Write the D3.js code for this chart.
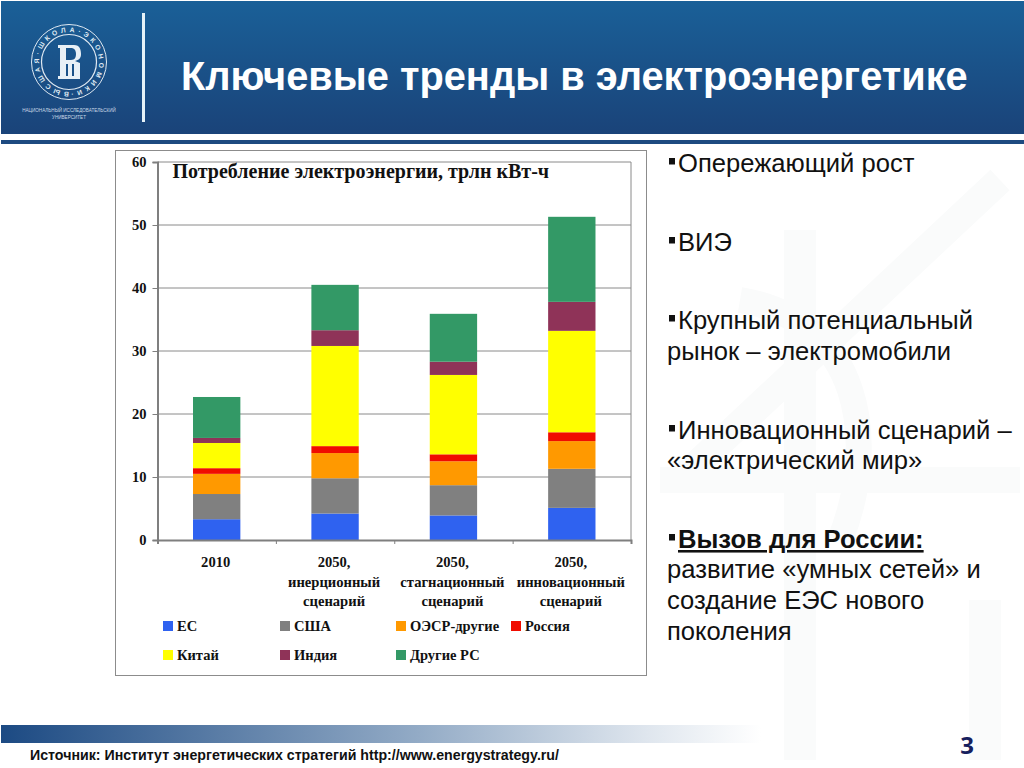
<!DOCTYPE html>
<html>
<head>
<meta charset="utf-8">
<script src="https://cdn.jsdelivr.net/npm/d3@7"></script>
<style>
html, body { margin: 0; padding: 0; background: #fff; }
svg { display: block; }
</style>
</head>
<body>
<script>
var categories = ["2010", "2050, инерционный", "2050, стагнационный", "2050, инновационный"];
var categoryLines = [
    ["2010"],
    ["2050,", "инерционный", "сценарий"],
    ["2050,", "стагнационный", "сценарий"],
    ["2050,", "инновационный", "сценарий"]
];
var seriesNames = ["ЕС", "США", "ОЭСР-другие", "Россия", "Китай", "Индия", "Другие РС"];
var seriesColors = ["#2f62f0", "#808080", "#ff9900", "#f00c00", "#ffff00", "#8f3358", "#339966"];
var es = [3.3, 4.2, 3.9, 5.1];
var usa = [4.0, 5.6, 4.8, 6.2];
var oecdOther = [3.2, 4.0, 3.8, 4.4];
var russia = [0.9, 1.1, 1.1, 1.4];
var china = [4.0, 15.9, 12.6, 16.1];
var india = [0.8, 2.5, 2.1, 4.6];
var otherDev = [6.5, 7.2, 7.6, 13.5];
var seriesValues = [es, usa, oecdOther, russia, china, india, otherDev];
var yTicks = [0, 10, 20, 30, 40, 50, 60];
var chartTitle = "Потребление электроэнергии, трлн кВт-ч";
var slideTitle = "Ключевые тренды в электроэнергетике";
var sourceLine = "Источник: Институт энергетических стратегий http://www.energystrategy.ru/";

var width = 1024, height = 768;
var sans = "'Liberation Sans', Arial, sans-serif";
var serif = "'Liberation Serif', 'Times New Roman', serif";

var svg = d3.select("body").append("svg")
    .attr("width", width)
    .attr("height", height);
var defs = svg.append("defs");

var headerGrad = defs.append("linearGradient").attr("id", "header-grad")
    .attr("x1", 0).attr("y1", 0).attr("x2", 0).attr("y2", 1);
headerGrad.append("stop").attr("offset", "0%").attr("stop-color", "#1a6098");
headerGrad.append("stop").attr("offset", "100%").attr("stop-color", "#1a4379");

var footerGrad = defs.append("linearGradient").attr("id", "footer-grad");
footerGrad.append("stop").attr("offset", "0%").attr("stop-color", "#1c4a83");
footerGrad.append("stop").attr("offset", "55%").attr("stop-color", "#93abc6");
footerGrad.append("stop").attr("offset", "85%").attr("stop-color", "#dfe6ee");
footerGrad.append("stop").attr("offset", "100%").attr("stop-color", "#ffffff");

renderWatermark();
renderHeader();
renderChart();
renderBullets();
renderFooter();

function renderWatermark() {
    var g = svg.append("g")
        .attr("fill", "none")
        .attr("stroke", "#fafbfb");
    g.append("path").attr("stroke-width", 32).attr("d", "M800,230V760");
    g.append("path").attr("stroke-width", 32).attr("d", "M985,600V760");
    g.append("path").attr("stroke-width", 28).attr("d", "M680,480L1000,180");
    g.append("path").attr("stroke-width", 26).attr("d", "M740,300C860,320 880,440 840,540");
    g.append("path").attr("stroke-width", 26).attr("d", "M660,480H1020");
}

function renderHeader() {
    svg.append("rect")
        .attr("x", 1).attr("y", 1)
        .attr("width", width - 1).attr("height", 133)
        .attr("fill", "url(#header-grad)");
    svg.append("rect")
        .attr("x", 1).attr("y", 140)
        .attr("width", width - 1).attr("height", 4)
        .attr("fill", "#1d4a80");
    svg.append("rect")
        .attr("x", 142).attr("y", 13)
        .attr("width", 3).attr("height", 109)
        .attr("fill", "#e6f2f8");
    svg.append("text")
        .attr("x", 181).attr("y", 90)
        .attr("font-family", sans)
        .attr("font-size", 39.8)
        .attr("font-weight", "bold")
        .attr("fill", "#ffffff")
        .text(slideTitle);
    renderLogo();
}

function renderLogo() {
    var g = svg.append("g").attr("transform", "translate(69,62)");
    g.append("circle").attr("r", 37.5)
        .attr("fill", "none").attr("stroke", "#dfe9f2").attr("stroke-width", 1);
    g.append("circle").attr("r", 27.5)
        .attr("fill", "none").attr("stroke", "#dfe9f2").attr("stroke-width", 1.2);
    defs.append("path").attr("id", "logo-ring")
        .attr("d", "M69,92A30,30 0 1 1 69.01,92");
    svg.append("text")
        .attr("font-family", sans)
        .attr("font-size", 6.8)
        .attr("font-weight", "bold")
        .attr("fill", "#dfe9f2")
        .append("textPath")
        .attr("href", "#logo-ring")
        .attr("textLength", 186)
        .text("ВЫСШАЯ·ШКОЛА·ЭКОНОМИКИ·");
    // monogram
    g.append("path")
        .attr("fill", "#e8f0f6")
        .attr("fill-rule", "evenodd")
        .attr("d", "M-11,-17H5C11,-17 12,-12 12,-8C12,-4 10,-2 6,-1L11,1V17H-11V14H-9V-14H-11Z" +
            "M-3,-14V-2H2C6,-2 7,-5 7,-8C7,-12 5,-14 2,-14Z" +
            "M-3,2V14H-1V2Z M3,2V14H5V2Z");
    [["НАЦИОНАЛЬНЫЙ ИССЛЕДОВАТЕЛЬСКИЙ", 112], ["УНИВЕРСИТЕТ", 119]].forEach(function (d) {
        svg.append("text")
            .attr("x", 69).attr("y", d[1])
            .attr("text-anchor", "middle")
            .attr("font-family", sans)
            .attr("font-size", 4.6)
            .attr("fill", "#c9d8e6")
            .text(d[0]);
    });
}

function renderChart() {
    var plot = {left: 157.5, right: 631, top: 162, bottom: 540};

    svg.append("rect")
        .attr("x", 115.5).attr("y", 150.5)
        .attr("width", 531).attr("height", 525)
        .attr("fill", "#ffffff")
        .attr("stroke", "#8c8c8c")
        .attr("stroke-width", 1);

    var x = d3.scaleBand()
        .domain(categories)
        .range([plot.left, plot.right])
        .paddingInner(0.6)
        .paddingOuter(0.3);
    var y = d3.scaleLinear()
        .domain([0, 60])
        .range([plot.bottom, plot.top]);

    var rows = categories.map(function (c, i) {
        var row = {category: c};
        seriesNames.forEach(function (name, s) { row[name] = seriesValues[s][i]; });
        return row;
    });
    var stacked = d3.stack().keys(seriesNames)(rows);

    // horizontal gridlines
    svg.append("g").selectAll("line")
        .data(yTicks.slice(1))
        .enter().append("line")
        .attr("x1", plot.left).attr("x2", plot.right)
        .attr("y1", function (d) { return y(d); })
        .attr("y2", function (d) { return y(d); })
        .attr("stroke", "#8a8a8a")
        .attr("stroke-width", 1);
    svg.append("line")
        .attr("x1", plot.right).attr("x2", plot.right)
        .attr("y1", plot.top).attr("y2", plot.bottom)
        .attr("stroke", "#8a8a8a");

    var layers = svg.append("g").selectAll("g")
        .data(stacked)
        .enter().append("g")
        .attr("fill", function (d, i) { return seriesColors[i]; });
    layers.selectAll("rect")
        .data(function (d) { return d; })
        .enter().append("rect")
        .attr("x", function (d) { return x(d.data.category); })
        .attr("width", x.bandwidth())
        .attr("y", function (d) { return y(d[1]); })
        .attr("height", function (d) { return y(d[0]) - y(d[1]); });

    // axes
    var yAxis = d3.axisLeft(y).tickValues(yTicks).tickSize(5).tickPadding(6);
    var yG = svg.append("g")
        .attr("transform", "translate(" + plot.left + ",0)")
        .call(yAxis);
    var xTickScale = d3.scaleLinear().domain([0, 4]).range([plot.left, plot.right]);
    var xAxis = d3.axisBottom(xTickScale).ticks(4).tickSize(4).tickFormat("");
    var xG = svg.append("g")
        .attr("transform", "translate(0," + plot.bottom + ")")
        .call(xAxis);
    [yG, xG].forEach(function (g) {
        g.selectAll("path").attr("stroke", "#7f7f7f").attr("stroke-width", 2);
        g.selectAll("line").attr("stroke", "#7f7f7f");
    });
    yG.selectAll("text")
        .attr("font-family", serif)
        .attr("font-size", 14.5)
        .attr("font-weight", "bold")
        .attr("fill", "#111");

    // category labels
    var labels = svg.append("g").selectAll("text")
        .data(categories)
        .enter().append("text")
        .attr("text-anchor", "middle")
        .attr("font-family", serif)
        .attr("font-size", 14.6)
        .attr("font-weight", "bold")
        .attr("fill", "#111");
    labels.selectAll("tspan")
        .data(function (d, i) {
            return categoryLines[i].map(function (t) { return {t: t, c: d}; });
        })
        .enter().append("tspan")
        .attr("x", function (d) { return x(d.c) + x.bandwidth() / 2 - 1; })
        .attr("y", function (d, i) { return 567 + i * 19.5; })
        .text(function (d) { return d.t; });

    svg.append("text")
        .attr("x", 172.5).attr("y", 178)
        .attr("font-family", serif)
        .attr("font-size", 20)
        .attr("font-weight", "bold")
        .attr("fill", "#111")
        .text(chartTitle);

    // legend
    var legendX = [163, 280, 396, 511];
    var legendY = [626, 655];
    var items = svg.append("g").selectAll("g")
        .data(seriesNames)
        .enter().append("g")
        .attr("transform", function (d, i) {
            return "translate(" + legendX[i % 4] + "," + legendY[Math.floor(i / 4)] + ")";
        });
    items.append("rect")
        .attr("y", -5).attr("width", 10).attr("height", 10)
        .attr("fill", function (d, i) { return seriesColors[i]; });
    items.append("text")
        .attr("x", 14).attr("y", 4.5)
        .attr("font-family", serif)
        .attr("font-size", 14.5)
        .attr("font-weight", "bold")
        .attr("fill", "#111")
        .text(function (d) { return d; });
}

function renderBullets() {
    var lines = [
        {t: "Опережающий рост", y: 172, bullet: true},
        {t: "ВИЭ", y: 251, bullet: true},
        {t: "Крупный потенциальный", y: 329, bullet: true},
        {t: "рынок – электромобили", y: 360},
        {t: "Инновационный сценарий –", y: 439, bullet: true},
        {t: "«электрический мир»", y: 469},
        {t: "Вызов для России:", y: 548, bullet: true, strong: true},
        {t: "развитие «умных сетей» и", y: 578},
        {t: "создание ЕЭС нового", y: 609},
        {t: "поколения", y: 640}
    ];
    var g = svg.append("g")
        .attr("font-family", sans)
        .attr("font-size", 25.6)
        .attr("fill", "#111");
    var rows = g.selectAll("g").data(lines).enter().append("g");
    rows.filter(function (d) { return d.bullet; })
        .append("rect")
        .attr("x", 669).attr("y", function (d) { return d.y - 14; })
        .attr("width", 6).attr("height", 6.5)
        .attr("fill", "#111");
    rows.append("text")
        .attr("x", function (d) { return d.bullet ? 678 : 667; })
        .attr("y", function (d) { return d.y; })
        .attr("font-weight", function (d) { return d.strong ? "bold" : null; })
        .attr("text-decoration", function (d) { return d.strong ? "underline" : null; })
        .text(function (d) { return d.t; });
}

function renderFooter() {
    svg.append("rect")
        .attr("x", 1).attr("y", 725)
        .attr("width", 760).attr("height", 18)
        .attr("fill", "url(#footer-grad)");
    svg.append("text")
        .attr("x", 30).attr("y", 760)
        .attr("font-family", sans)
        .attr("font-size", 14.2)
        .attr("font-weight", "bold")
        .attr("fill", "#111")
        .text(sourceLine);
    svg.append("text")
        .attr("x", 967).attr("y", 754)
        .attr("text-anchor", "middle")
        .attr("font-family", "'Open Sans', sans-serif")
        .attr("font-size", 24)
        .attr("font-weight", "bold")
        .attr("fill", "#16205e")
        .text("3");
}
</script>
</body>
</html>
